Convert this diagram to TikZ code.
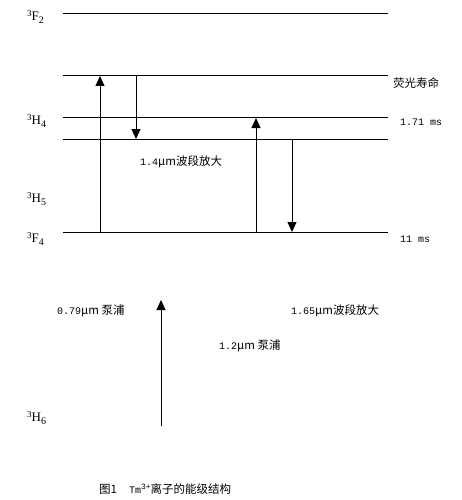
\documentclass[tikz,border=0pt]{standalone}
\usepackage{fontspec}
\usetikzlibrary{arrows.meta}
\newfontfamily\cjk{Noto Sans CJK SC}
\newfontfamily\monof{Liberation Mono}
\newfontfamily\serif{Liberation Serif}
\newcommand{\mn}[1]{{\monof\fontsize{10}{12}\selectfont #1}}
\newcommand{\zh}[1]{{\cjk\fontsize{11.5}{13}\selectfont #1}}
\newcommand{\lvl}[3]{\fontsize{13}{15}\selectfont\raisebox{0.8ex}{\fontsize{9}{10}\selectfont #1}#2\raisebox{-0.5ex}{\fontsize{10}{11}\selectfont #3}}
\begin{document}
\begin{tikzpicture}[x=1pt,y=-1pt,
  level/.style={line width=1pt},
  trans/.style={line width=1pt,-{Triangle[width=9pt,length=10pt]}},
  lab/.style={inner sep=0pt,anchor=west,font=\serif},
  txt/.style={inner sep=0pt,anchor=west}]
\useasboundingbox (0,0) rectangle (462,500);
% levels
\coordinate (f2l) at (63,14);  \coordinate (f2r) at (388,14);
\coordinate (m1l) at (63,76);  \coordinate (m1r) at (388,76);
\coordinate (h4l) at (63,118); \coordinate (h4r) at (388,118);
\coordinate (m2l) at (63,139); \coordinate (m2r) at (388,139);
\coordinate (f4l) at (63,232); \coordinate (f4r) at (388,232);
\draw[level] (f2l) -- (f2r);
\draw[level] (m1l) -- (m1r);
\draw[level] (h4l) -- (h4r);
\draw[level] (m2l) -- (m2r);
\draw[level] (f4l) -- (f4r);
% transitions
\coordinate (a1s) at (100,232); \coordinate (a1e) at (100,76);
\coordinate (a2s) at (136,76);  \coordinate (a2e) at (136,139);
\coordinate (a3s) at (256,232); \coordinate (a3e) at (256,118);
\coordinate (a4s) at (292,139); \coordinate (a4e) at (292,232);
\coordinate (a5s) at (161,426); \coordinate (a5e) at (161,300);
\draw[trans] (a1s) -- (a1e);
\draw[trans] (a2s) -- (a2e);
\draw[trans] (a3s) -- (a3e);
\draw[trans] (a4s) -- (a4e);
\draw[trans] (a5s) -- (a5e);
% level labels
\node[lab] (lf2) at (27,17) {\lvl{3}{F}{2}};
\node[lab] (lh4) at (27,121) {\lvl{3}{H}{4}};
\node[lab] (lh5) at (27,199) {\lvl{3}{H}{5}};
\node[lab] (lf4) at (27,239) {\lvl{3}{F}{4}};
\node[lab] (lh6) at (27,418) {\lvl{3}{H}{6}};
% right labels
\node[txt] (t1) at (393,83) {\zh{荧光寿命}};
\node[txt] (t2) at (400,122) {\mn{1.71 ms}};
\node[txt] (t3) at (400,239) {\mn{11 ms}};
% transition labels
\node[txt] (t4) at (140,162) {\mn{1.4}\zh{μm波段放大}};
\node[txt] (t5) at (57,311) {\mn{0.79}\zh{μm 泵浦}};
\node[txt] (t6) at (291,311) {\mn{1.65}\zh{μm波段放大}};
\node[txt] (t7) at (219,346) {\mn{1.2}\zh{μm 泵浦}};
% caption
\node[txt] (cap) at (99,489) {\zh{图1}\mn{\ \ Tm\raisebox{0.7ex}{\fontsize{8}{9}\selectfont 3+}}\zh{离子的能级结构}};
\end{tikzpicture}
\end{document}
